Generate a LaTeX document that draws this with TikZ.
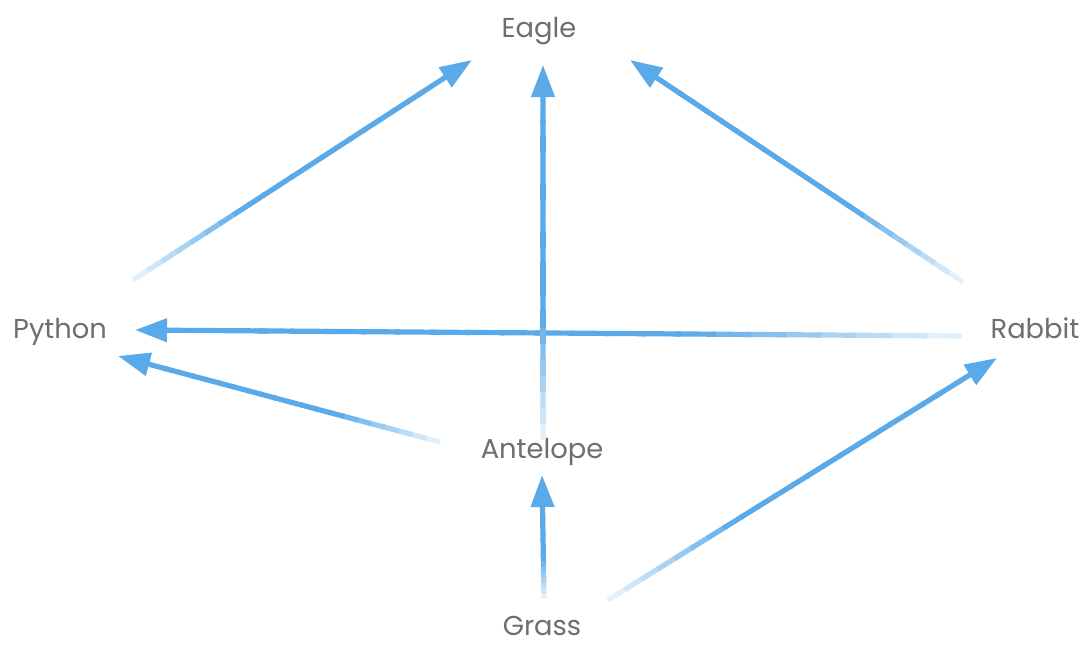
\documentclass[tikz,border=0pt]{standalone}
\usepackage{fontspec}
\setmainfont{Poppins}
\usetikzlibrary{arrows.meta,calc}
\definecolor{ablue}{HTML}{5AA9E8}
\definecolor{lblgray}{HTML}{6E6E6E}
\tikzset{
  lbl/.style={text=lblgray, font=\fontsize{20.5}{22}\selectfont, inner sep=0pt, anchor=base},
  conn/.style={line width=3.9pt, line cap=butt, draw=ablue},
  tiparrow/.style={-{Triangle[length=24pt,width=17pt]}}
}
\newcommand\fadeconn[2]{%
  \foreach \i in {0,...,19}{%
    \pgfmathsetmacro\ta{0.85*\i/20}%
    \pgfmathsetmacro\tb{0.85*(\i+1)/20+0.006}%
    \pgfmathtruncatemacro\pc{min(100,6+100*\tb/0.38)}%
    \draw[conn, draw=ablue!\pc!white] ($(#1)!\ta!(#2)$) -- ($(#1)!\tb!(#2)$);
  }%
  \draw[conn, tiparrow] ($(#1)!0.84!(#2)$) -- (#2);
}
\begin{document}
\begin{tikzpicture}[x=0.75pt,y=-0.75pt]
\useasboundingbox[fill=white] (0,0) rectangle (1082,644);
% labels
\node[lbl] (eagle)    at (539,37)  {Eagle};
\node[lbl] (python)   at (60,338)  {Python};
\node[lbl] (rabbit)   at (1035,338) {Rabbit};
\node[lbl] (antelope) at (542,458) {Antelope};
\node[lbl] (grass)    at (542,635) {Grass};
% connector end points
\coordinate (pe-t) at (133,280); \coordinate (pe-h) at (472,60);
\coordinate (ae-t) at (543,440); \coordinate (ae-h) at (543,65);
\coordinate (re-t) at (963,282); \coordinate (re-h) at (630,60);
\coordinate (rp-t) at (962,336); \coordinate (rp-h) at (135,330);
\coordinate (ap-t) at (440,442); \coordinate (ap-h) at (118,356);
\coordinate (ga-t) at (544,598); \coordinate (ga-h) at (542,475);
\coordinate (gr-t) at (608,600); \coordinate (gr-h) at (997,358);
% connectors
\fadeconn{rp-t}{rp-h}
\fadeconn{ae-t}{ae-h}
\fadeconn{pe-t}{pe-h}
\fadeconn{re-t}{re-h}
\fadeconn{ap-t}{ap-h}
\fadeconn{ga-t}{ga-h}
\fadeconn{gr-t}{gr-h}
\end{tikzpicture}
\end{document}
